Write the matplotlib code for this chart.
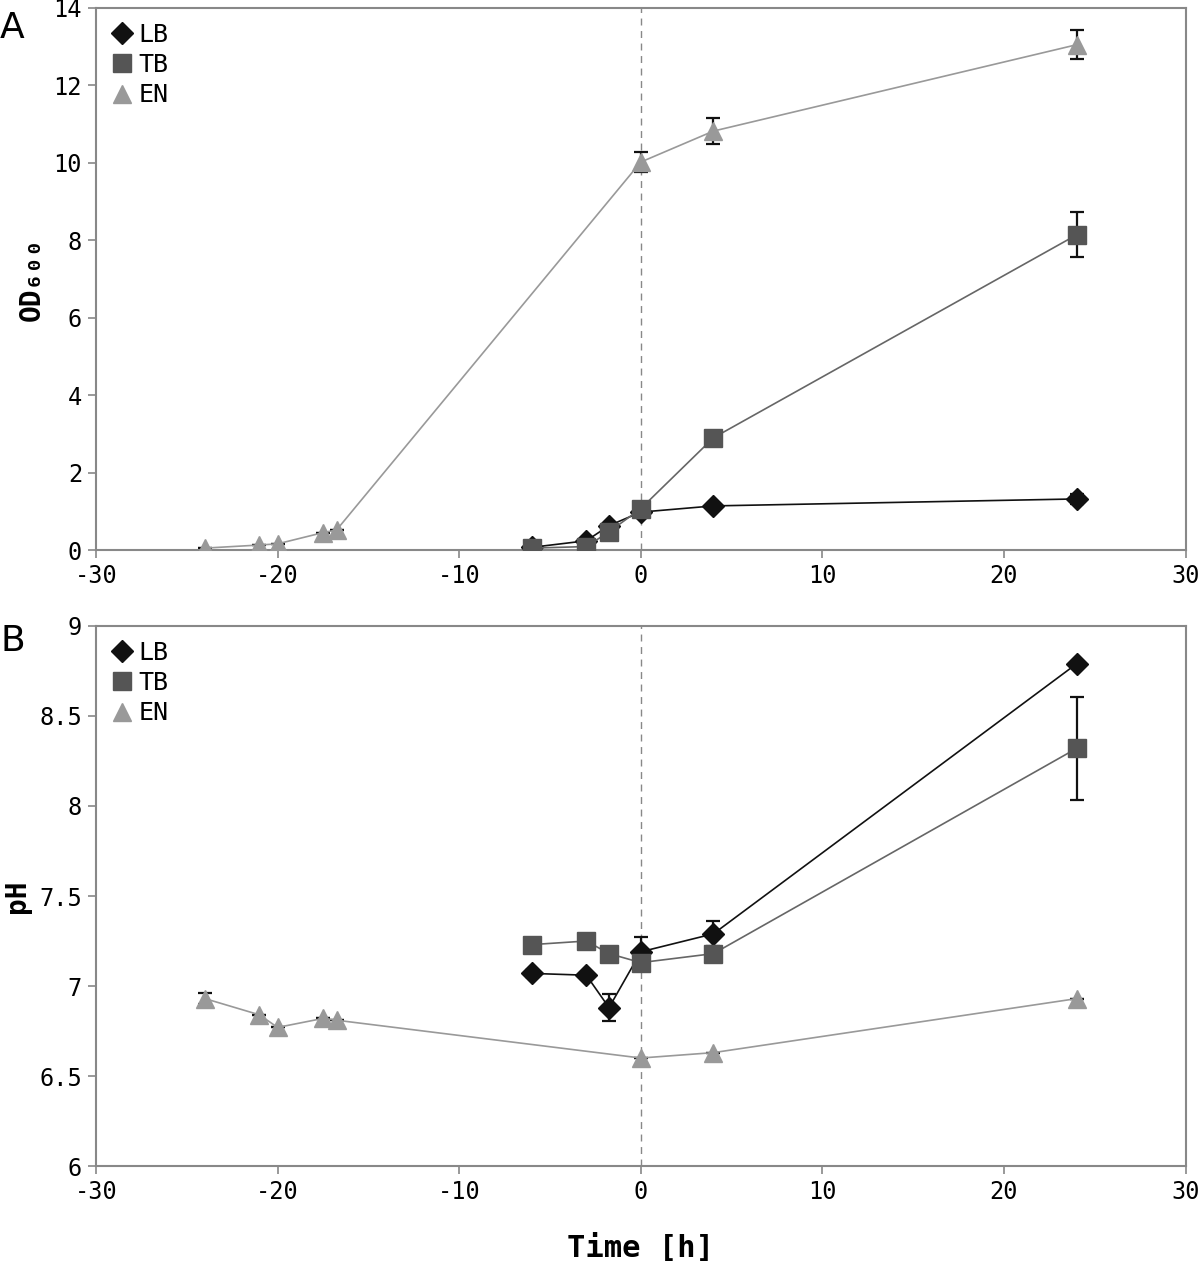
import numpy as np
import matplotlib.pyplot as plt

# Time points [h]
t_lb = [-6, -3, -1.75, 0, 4, 24]
t_tb = [-6, -3, -1.75, 0, 4, 24]
t_en = [-24, -21, -20, -17.5, -16.75, 0, 4, 24]

# Panel A: OD600
od_lb = [0.07, 0.24, 0.63, 0.98, 1.14, 1.32]
od_lb_err = [0, 0, 0, 0, 0, 0.12]
od_tb = [0.05, 0.09, 0.47, 1.07, 2.90, 8.14]
od_tb_err = [0, 0, 0, 0, 0, 0.58]
od_en = [0.05, 0.13, 0.16, 0.45, 0.52, 10.02, 10.82, 13.05]
od_en_err = [0, 0, 0, 0, 0, 0.26, 0.34, 0.38]

# Panel B: pH
ph_lb = [7.07, 7.06, 6.88, 7.19, 7.29, 8.79]
ph_lb_err = [0.02, 0, 0.077, 0.08, 0.07, 0]
ph_tb = [7.23, 7.25, 7.18, 7.13, 7.18, 8.32]
ph_tb_err = [0, 0, 0, 0, 0, 0.285]
ph_en = [6.93, 6.84, 6.77, 6.82, 6.81, 6.60, 6.63, 6.93]
ph_en_err = [0.03, 0, 0, 0, 0, 0, 0, 0]

mono = ['DejaVu Sans Mono', 'DejaVu Sans']
plt.rcParams['font.family'] = mono
plt.rcParams['axes.unicode_minus'] = False

fig = plt.figure(figsize=(12, 12.61), dpi=100)
ax_a = fig.add_axes([0.08, 0.5638, 0.908, 0.4299])
ax_b = fig.add_axes([0.08, 0.0753, 0.908, 0.4283])

styles = [
    ('LB', 'D', '#111111', '#111111', 11),
    ('TB', 's', '#555555', '#666666', 13.5),
    ('EN', '^', '#999999', '#999999', 13),
]


def draw(ax, t_list, y_list, err_list):
    for (name, mk, mc, lc, ms), t, y, e in zip(styles, t_list, y_list, err_list):
        ax.errorbar(t, y, yerr=e, fmt='none', ecolor='#111111', elinewidth=1.6,
                    capsize=5, capthick=1.6, zorder=2)
        ax.plot(t, y, color=lc, lw=1.2, marker=mk, ms=ms, mfc=mc, mec=mc,
                label=name, zorder=3)
    ax.axvline(0, color='#888888', lw=1, ls=(0, (5, 4)), zorder=1)
    ax.set_xlim(-30, 30)
    ax.set_xticks(np.arange(-30, 31, 10))
    for s in ax.spines.values():
        s.set_color('#888888')
        s.set_linewidth(1.5)
    ax.tick_params(labelsize=17, color='#888888', width=1.2, length=6,
                   direction='out', pad=4)
    leg = ax.legend(loc='upper left', frameon=False, fontsize=18,
                    handlelength=0.9, handletextpad=0.2, labelspacing=0.25,
                    borderaxespad=0.2)
    for h in leg.legend_handles:
        h.set_linestyle('none')


draw(ax_a, [t_lb, t_tb, t_en], [od_lb, od_tb, od_en],
     [od_lb_err, od_tb_err, od_en_err])
ax_a.set_ylim(0, 14)
ax_a.set_yticks(np.arange(0, 15, 2))
ax_a.set_ylabel('OD₆₀₀', fontsize=20, fontweight='bold', labelpad=6)

draw(ax_b, [t_lb, t_tb, t_en], [ph_lb, ph_tb, ph_en],
     [ph_lb_err, ph_tb_err, ph_en_err])
ax_b.set_ylim(6, 9)
ax_b.set_yticks(np.arange(6, 9.01, 0.5))
ax_b.set_yticklabels(['6', '6.5', '7', '7.5', '8', '8.5', '9'])
ax_b.set_ylabel('pH', fontsize=20, fontweight='bold', labelpad=6)
ax_b.set_xlabel('Time [h]', fontsize=22, fontweight='bold', labelpad=22)

fig.text(0.0, 0.978, 'A', fontsize=26, family='DejaVu Sans', va='center')
fig.text(0.0, 0.492, 'B', fontsize=26, family='DejaVu Sans', va='center')

fig.savefig('out.png', dpi=100)
